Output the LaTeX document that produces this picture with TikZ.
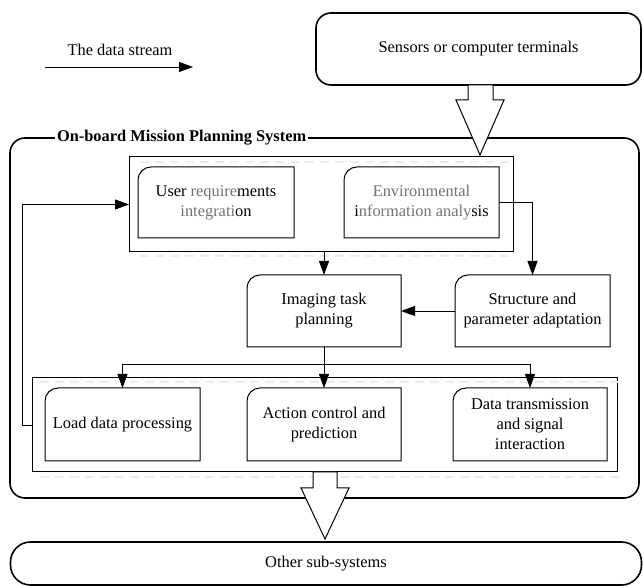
\documentclass[tikz,border=0pt]{standalone}
\usepackage{fontspec}
\setmainfont{Liberation Serif}
\usetikzlibrary{arrows.meta}
\definecolor{graytext}{RGB}{115,115,115}
\definecolor{ghost}{RGB}{232,238,248}
\tikzset{
  every node/.style={inner sep=0pt, outer sep=0pt},
  txt/.style={font=\fontsize{16.4}{20}\selectfont, align=center},
  heavy/.style={line width=1.6pt},
  boxline/.style={line width=1pt},
  grp/.style={draw, line width=1pt, rectangle},
  conn/.style={line width=0.9pt, -{Triangle[length=14pt,width=10pt]}},
  plain/.style={line width=0.9pt},
  blockarrow/.style={draw, fill=white, line width=1pt, line join=miter},
  ghostline/.style={ghost, line width=2.5pt, dash pattern=on 9pt off 6pt}
}
\newcommand\tlbox[1]{%
  \draw[boxline] (#1.south west) -- ([yshift=-13pt]#1.north west)
    arc[start angle=180,end angle=90,radius=13pt] -- (#1.north east)
    -- (#1.south east) -- cycle;}
\begin{document}
\begin{tikzpicture}[x=1pt,y=1pt]
\useasboundingbox (0,0) rectangle (643,586);

% legend
\node[txt] (legend) at (120,536) {The data stream};
\coordinate (lgA) at (45,519);
\coordinate (lgB) at (193,519);
\draw[conn] (lgA) -- (lgB);

% sensors
\node[txt, draw, heavy, rounded corners=15pt, minimum width=325pt, minimum height=72pt] (sens) at (478.5,537) {Sensors or computer terminals};

% main system box
\node[draw, heavy, rounded corners=15pt, minimum width=629pt, minimum height=360pt] (sys) at (324.5,268) {};
\node[txt, font=\fontsize{16.4}{20}\selectfont\bfseries, fill=white, inner xsep=2pt, anchor=west] (syslabel) at (55,448) {On-board Mission Planning System};

% group boxes
\node[grp, minimum width=384pt, minimum height=95pt] (ug) at (321,381.5) {};
\node[grp, minimum width=585pt, minimum height=94pt] (lg) at (324.5,161) {};

% faint dashes
\draw[ghostline] (140,424) -- (515,424);
\draw[ghostline] (140,330) -- (515,330);
\draw[ghostline] (40,204) -- (620,204);
\draw[ghostline] (40,109) -- (620,109);

% inner boxes
\node[txt, minimum width=156pt, minimum height=71pt] (user) at (216,383.5)
  {User \textcolor{graytext}{require}ments\\\textcolor{graytext}{integrati}on};
\tlbox{user}
\node[txt, minimum width=155pt, minimum height=71pt] (env) at (421.5,383.5)
  {\textcolor{graytext}{Environmental}\\i\textcolor{graytext}{nformation analy}sis};
\tlbox{env}
\node[txt, minimum width=154pt, minimum height=72pt] (img) at (324,275)
  {Imaging task\\planning};
\tlbox{img}
\node[txt, minimum width=155pt, minimum height=72pt] (struct) at (532.5,275)
  {Structure and\\parameter adaptation};
\tlbox{struct}
\node[txt, minimum width=155pt, minimum height=73pt] (load) at (122.5,161.5)
  {Load data processing};
\tlbox{load}
\node[txt, minimum width=154pt, minimum height=73pt] (act) at (324,161.5)
  {Action control and\\prediction};
\tlbox{act}
\node[txt, minimum width=154pt, minimum height=73pt] (data) at (530,161.5)
  {Data transmission\\and signal\\interaction};
\tlbox{data}

% connectors
\draw[conn] (lg.west) -- ++(-10,0) |- (ug.west);
\draw[conn] (env.east) -| (struct.north);
\draw[conn] (img.north |- ug.south) -- (img.north);
\draw[conn] (struct.west) -- (img.east);
\coordinate (split) at ([yshift=-17pt]img.south);
\draw[plain] (img.south) -- (split);
\draw[conn] (split) -- (act.north);
\draw[conn] (split) -| (load.north);
\draw[conn] (split) -| (data.north);

% other sub-systems
\node[txt, draw, heavy, rounded corners=20pt, minimum width=631pt, minimum height=43pt] (other) at (326,22.5) {Other sub-systems};

% block arrows
\coordinate (ttip) at (480,431);
\draw[blockarrow] (468,501) -- (468,486) -- (456,486) -- (ttip) -- (504,486)
  -- (493,486) -- (493,501) -- cycle;
\coordinate (bt) at (325,47);
\draw[blockarrow] (313,114) -- (313,98) -- (301,98) -- (bt) -- (349,98)
  -- (337,98) -- (337,114) -- cycle;
\end{tikzpicture}
\end{document}
